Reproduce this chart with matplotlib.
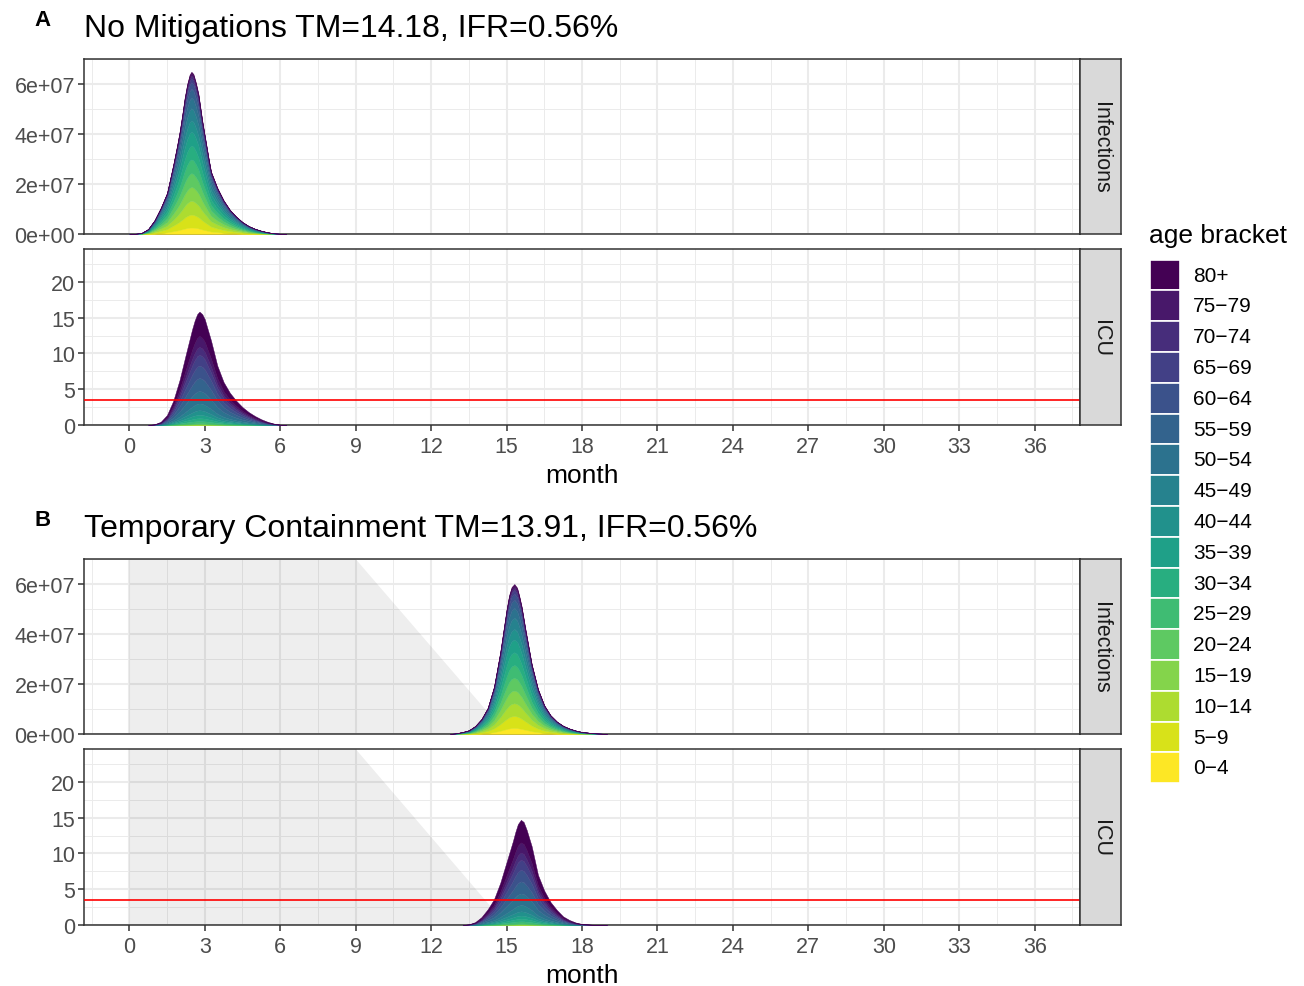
import numpy as np
import matplotlib
matplotlib.use("Agg")
import matplotlib.pyplot as plt
from matplotlib.patches import Rectangle, Polygon

plt.rcParams['font.family'] = ['Liberation Sans', 'DejaVu Sans']

# age brackets, youngest first (bottom of the stack)
ages = ["0-4", "5-9", "10-14", "15-19", "20-24", "25-29", "30-34", "35-39", "40-44",
        "45-49", "50-54", "55-59", "60-64", "65-69", "70-74", "75-79", "80+"]

# share of each age bracket in infections and in ICU occupancy (read at the peaks)
inf_share = [0.04, 0.08, 0.085, 0.085, 0.085, 0.085, 0.085, 0.085, 0.07,
             0.075, 0.065, 0.055, 0.04, 0.025, 0.015, 0.015, 0.01]
icu_share = [0.0005, 0.0005, 0.002, 0.004, 0.008, 0.02, 0.025, 0.03, 0.04,
             0.06, 0.11, 0.115, 0.11, 0.095, 0.07, 0.096, 0.214]

# A: no mitigations, total infections (persons) and ICU beds per month
a_inf_month = [0.0, 0.25, 0.5, 0.75, 1.0, 1.25, 1.5, 1.75, 1.9, 2.0, 2.1, 2.2, 2.3, 2.4,
               2.47, 2.55, 2.65, 2.75, 2.9, 3.0, 3.15, 3.25, 3.5, 3.75, 4.0, 4.25, 4.5,
               4.75, 5.0, 5.25, 5.5, 5.75, 6.0, 6.25]
a_inf_total = [0, 0.01e7, 0.05e7, 0.2e7, 0.55e7, 1.05e7, 1.65e7, 2.8e7, 3.55e7, 4.1e7,
               4.75e7, 5.45e7, 6.0e7, 6.38e7, 6.49e7, 6.4e7, 6.05e7, 5.6e7, 4.55e7, 3.95e7,
               3.05e7, 2.5e7, 1.85e7, 1.35e7, 0.97e7, 0.7e7, 0.48e7, 0.32e7, 0.21e7,
               0.13e7, 0.07e7, 0.03e7, 0.01e7, 0]
a_icu_month = [0.75, 1.0, 1.25, 1.5, 1.75, 2.0, 2.25, 2.5, 2.6, 2.7, 2.79, 2.9, 3.0, 3.15,
               3.25, 3.5, 3.75, 4.0, 4.25, 4.5, 4.75, 5.0, 5.25, 5.5, 5.75, 6.0, 6.25]
a_icu_total = [0.0, 0.1, 0.45, 1.4, 3.4, 6.3, 9.9, 13.4, 14.6, 15.5, 15.85, 15.5, 14.8,
               13.0, 11.8, 8.3, 6.0, 4.5, 3.4, 2.5, 1.8, 1.25, 0.8, 0.45, 0.2, 0.05, 0.0]

# B: temporary containment
b_inf_month = [12.75, 13.0, 13.25, 13.5, 13.75, 14.0, 14.25, 14.5, 14.75, 15.0, 15.1, 15.2,
               15.31, 15.42, 15.5, 15.6, 15.75, 16.0, 16.25, 16.5, 16.75, 17.0, 17.25,
               17.5, 17.75, 18.0, 18.5, 19.0]
b_inf_total = [0, 0.03e7, 0.08e7, 0.15e7, 0.32e7, 0.6e7, 1.05e7, 1.9e7, 3.3e7, 5.0e7,
               5.55e7, 5.88e7, 6.0e7, 5.85e7, 5.55e7, 5.1e7, 4.2e7, 2.8e7, 1.8e7, 1.15e7,
               0.75e7, 0.5e7, 0.33e7, 0.22e7, 0.14e7, 0.08e7, 0.03e7, 0]
b_icu_month = [13.25, 13.5, 13.75, 14.0, 14.25, 14.5, 14.75, 15.0, 15.25, 15.35, 15.45,
               15.57, 15.68, 15.8, 16.0, 16.25, 16.5, 16.75, 17.0, 17.25, 17.5, 17.75,
               18.0, 18.5, 19.0]
b_icu_total = [0, 0.1, 0.4, 1.1, 2.2, 3.6, 5.9, 8.8, 11.7, 13.0, 14.1, 14.7, 14.4, 13.3,
               11.0, 7.0, 4.8, 3.2, 2.1, 1.2, 0.7, 0.35, 0.15, 0.02, 0]

icu_capacity = 3.5
# containment strength: full until month 9, lifted linearly until month 15
shade_month = [0, 0, 9, 15]
shade_level = [0, 1, 1, 0]

x_ticks = list(range(0, 37, 3))
inf_ticks = [0, 2e7, 4e7, 6e7]
inf_labels = ["0e+00", "2e+07", "4e+07", "6e+07"]
icu_ticks = [0, 5, 10, 15, 20]

titles = ["No Mitigations TM=14.18, IFR=0.56%", "Temporary Containment TM=13.91, IFR=0.56%"]

colors = plt.cm.viridis(np.linspace(0, 1, 17))[::-1]  # 0-4 yellow ... 80+ purple

W, H = 1304, 987
fig = plt.figure(figsize=(W / 100, H / 100), dpi=100)


def px_axes(x0, y0, x1, y1):
    return fig.add_axes([x0 / W, 1 - y1 / H, (x1 - x0) / W, (y1 - y0) / H])


def style_panel(ax, ylim, yticks, ylabels, bottom):
    ax.set_xlim(-1.8, 37.8)
    ax.set_ylim(*ylim)
    ax.set_xticks(x_ticks)
    ax.set_xticks([t + 1.5 for t in [-3] + x_ticks], minor=True)
    ax.set_yticks(yticks)
    step = yticks[1] - yticks[0]
    ax.set_yticks([t + step / 2 for t in yticks], minor=True)
    ax.set_yticklabels(ylabels)
    ax.grid(which='major', color='#EBEBEB', lw=1.5, zorder=0)
    ax.grid(which='minor', color='#EBEBEB', lw=0.7, zorder=0)
    ax.set_axisbelow(True)
    for s in ax.spines.values():
        s.set_color('#333333')
        s.set_linewidth(1.1)
    ax.tick_params(which='major', length=4, width=1.1, color='#333333',
                   labelsize=15.5, labelcolor='#4D4D4D', pad=2.5)
    ax.tick_params(which='minor', length=0)
    if not bottom:
        ax.tick_params(axis='x', which='major', length=0, labelbottom=False)


def strip(y0, y1, label):
    s = px_axes(1080, y0, 1121, y1)
    s.set_facecolor('#D9D9D9')
    s.set_xticks([])
    s.set_yticks([])
    for sp in s.spines.values():
        sp.set_color('#333333')
        sp.set_linewidth(1.1)
    s.text(0.5, 0.5, label, rotation=270, ha='center', va='center',
           fontsize=15.5, color='#1A1A1A', transform=s.transAxes)


def stack(ax, months, total, shares):
    total = np.array(total)
    layers = [total * sh for sh in shares]
    polys = ax.stackplot(months, *layers, colors=colors, zorder=3)
    for p, c in zip(polys, colors):
        p.set_edgecolor(c)
        p.set_linewidth(0.3)


panels = [
    (60, 235, 250, 426, a_inf_month, a_inf_total, a_icu_month, a_icu_total, False),
    (560, 735, 750, 926, b_inf_month, b_inf_total, b_icu_month, b_icu_total, True),
]

for k, (iy0, iy1, cy0, cy1, im, it, cm, ct, shaded) in enumerate(panels):
    ax1 = px_axes(84, iy0, 1080, iy1)
    ax2 = px_axes(84, cy0, 1080, cy1)
    style_panel(ax1, (0, 7e7), inf_ticks, inf_labels, False)
    style_panel(ax2, (0, 24.6), icu_ticks, [str(t) for t in icu_ticks], True)
    if shaded:
        for ax in (ax1, ax2):
            top = ax.get_ylim()[1]
            pts = [(m, l * top) for m, l in zip(shade_month, shade_level)]
            ax.add_patch(Polygon(pts, closed=True, facecolor='black', alpha=0.065,
                                 edgecolor='none', zorder=1))
    stack(ax1, im, it, inf_share)
    stack(ax2, cm, ct, icu_share)
    ax2.axhline(icu_capacity, color='#FF0000', lw=1.2, zorder=4)
    ax2.set_xticklabels([str(t) for t in x_ticks])
    ax2.tick_params(axis='x', pad=4)
    ax2.set_xlabel("month", fontsize=19, color='black', labelpad=4)
    strip(iy0, iy1, "Infections")
    strip(cy0, cy1, "ICU")
    fig.text(43 / W, 1 - (iy0 - 39) / H, "AB"[k], fontsize=16, fontweight='bold',
             ha='center', va='center')
    fig.text(84 / W, 1 - (iy0 - 31) / H, titles[k], fontsize=23, va='center')

# legend
fig.text(1149 / W, 1 - 236 / H, "age bracket", fontsize=19, va='center')
leg = fig.add_axes([0, 0, 1, 1], facecolor='none')
leg.set_xlim(0, W)
leg.set_ylim(H, 0)
leg.axis('off')
for i, (lab, c) in enumerate(zip(ages[::-1], colors[::-1])):
    yc = 276 + i * 30.8
    leg.add_patch(Rectangle((1150, yc - 15.4), 30, 30.8, facecolor=c, edgecolor='white', lw=1.2))
    leg.text(1193, yc, lab.replace("-", "\u2212"), fontsize=15, va='center', color='black')

fig.savefig("out.png", dpi=100)
